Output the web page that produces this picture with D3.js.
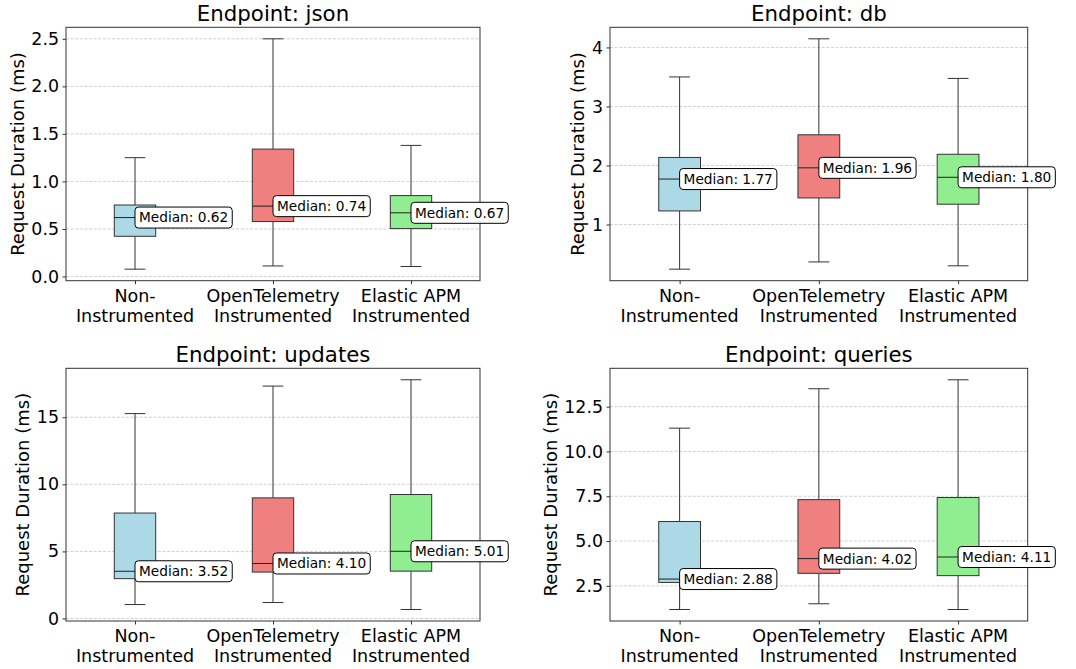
<!DOCTYPE html>
<html>
<head>
<meta charset="utf-8">
<script src="https://cdn.jsdelivr.net/npm/d3@7"></script>
<style>
  body { margin: 0; background: #fff; }
  svg { font-family: "DejaVu Sans", sans-serif; }
</style>
</head>
<body>
<script>
// categories and colours
var groups = ["Non-\nInstrumented", "OpenTelemetry\nInstrumented", "Elastic APM\nInstrumented"];
var colors = ["#add8e6", "#f08080", "#90ee90"];
var endpoints = ["json", "db", "updates", "queries"];

// box stats per endpoint: [whiskerLow, q1, median, q3, whiskerHigh]
var jsonStats = [[0.077, 0.423, 0.62, 0.752, 1.25], [0.111, 0.578, 0.74, 1.34, 2.50], [0.105, 0.504, 0.67, 0.851, 1.379]];
var dbStats = [[0.243, 1.23, 1.77, 2.136, 3.50], [0.366, 1.45, 1.96, 2.52, 4.146], [0.30, 1.344, 1.80, 2.19, 3.475]];
var updatesStats = [[1.04, 2.97, 3.52, 7.86, 15.27], [1.19, 3.46, 4.10, 8.99, 17.32], [0.67, 3.53, 5.01, 9.24, 17.79]];
var queriesStats = [[1.18, 2.69, 2.88, 6.09, 11.30], [1.50, 3.20, 4.02, 7.31, 13.50], [1.18, 3.07, 4.11, 7.43, 14.0]];

// y tick values per endpoint
var jsonTicks = [0, 0.5, 1.0, 1.5, 2.0, 2.5];
var dbTicks = [1, 2, 3, 4];
var updatesTicks = [0, 5, 10, 15];
var queriesTicks = [2.5, 5.0, 7.5, 10.0, 12.5];

var panels = [
  {name: endpoints[0], stats: jsonStats, ticks: jsonTicks, fmt: d3.format(".1f"), x0: 66, x1: 480, y0: 27.3, y1: 280.7},
  {name: endpoints[1], stats: dbStats, ticks: dbTicks, fmt: d3.format("d"), x0: 610, x1: 1027.7, y0: 27.3, y1: 280.7},
  {name: endpoints[2], stats: updatesStats, ticks: updatesTicks, fmt: d3.format("d"), x0: 66, x1: 480, y0: 368.3, y1: 621},
  {name: endpoints[3], stats: queriesStats, ticks: queriesTicks, fmt: d3.format(".1f"), x0: 610, x1: 1027.7, y0: 368.3, y1: 621}
];

var svg = d3.select("body").append("svg")
  .attr("width", 1076)
  .attr("height", 669);

panels.forEach(function(p) {
  var g = svg.append("g");

  var lo = d3.min(p.stats, function(s) { return s[0]; });
  var hi = d3.max(p.stats, function(s) { return s[4]; });
  var m = (hi - lo) * 0.05;

  var y = d3.scaleLinear().domain([lo - m, hi + m]).range([p.y1, p.y0]);
  var x = d3.scaleLinear().domain([0.5, 3.5]).range([p.x0, p.x1]);
  var bw = x(1.15) - x(0.85);

  // grid
  g.selectAll(".grid").data(p.ticks).enter().append("line")
    .attr("x1", p.x0).attr("x2", p.x1)
    .attr("y1", function(d) { return y(d); })
    .attr("y2", function(d) { return y(d); })
    .attr("stroke", "#c4c4c4")
    .attr("stroke-width", 0.8)
    .attr("stroke-dasharray", "3,1.6");

  // y axis
  var yAxis = g.append("g")
    .attr("transform", "translate(" + p.x0 + ",0)")
    .call(d3.axisLeft(y).tickValues(p.ticks).tickFormat(p.fmt).tickSize(3.5).tickPadding(3.5));
  yAxis.select(".domain").remove();
  yAxis.selectAll("line").attr("stroke", "#333");
  yAxis.selectAll("text").attr("font-size", 17.4).attr("fill", "#000")
    .attr("font-family", "DejaVu Sans");

  // x axis
  var xAxis = g.append("g")
    .attr("transform", "translate(0," + p.y1 + ")")
    .call(d3.axisBottom(x).tickValues([1, 2, 3]).tickFormat("").tickSize(3.5));
  xAxis.select(".domain").remove();
  xAxis.selectAll("line").attr("stroke", "#333");

  groups.forEach(function(lbl, i) {
    var t = g.append("text")
      .attr("x", x(i + 1))
      .attr("y", p.y1 + 21)
      .attr("text-anchor", "middle")
      .attr("font-size", 17.5);
    lbl.split("\n").forEach(function(line, k) {
      t.append("tspan").attr("x", x(i + 1)).attr("dy", k === 0 ? 0 : 20).text(line);
    });
  });

  // boxes
  p.stats.forEach(function(s, i) {
    var cx = x(i + 1);
    var bg = g.append("g");
    bg.append("line").attr("x1", cx).attr("x2", cx).attr("y1", y(s[0])).attr("y2", y(s[1]))
      .attr("stroke", "#333").attr("stroke-width", 1);
    bg.append("line").attr("x1", cx).attr("x2", cx).attr("y1", y(s[3])).attr("y2", y(s[4]))
      .attr("stroke", "#333").attr("stroke-width", 1);
    bg.append("line").attr("x1", cx - bw / 4).attr("x2", cx + bw / 4).attr("y1", y(s[0])).attr("y2", y(s[0]))
      .attr("stroke", "#333").attr("stroke-width", 1);
    bg.append("line").attr("x1", cx - bw / 4).attr("x2", cx + bw / 4).attr("y1", y(s[4])).attr("y2", y(s[4]))
      .attr("stroke", "#333").attr("stroke-width", 1);
    bg.append("rect")
      .attr("x", cx - bw / 2).attr("width", bw)
      .attr("y", y(s[3])).attr("height", y(s[1]) - y(s[3]))
      .attr("fill", colors[i]).attr("stroke", "#333").attr("stroke-width", 1);
    bg.append("line").attr("x1", cx - bw / 2).attr("x2", cx + bw / 2).attr("y1", y(s[2])).attr("y2", y(s[2]))
      .attr("stroke", "#222").attr("stroke-width", 1);
  });

  // frame
  g.append("rect")
    .attr("x", p.x0).attr("y", p.y0)
    .attr("width", p.x1 - p.x0).attr("height", p.y1 - p.y0)
    .attr("fill", "none").attr("stroke", "#333").attr("stroke-width", 1);

  // median labels
  p.stats.forEach(function(s, i) {
    var cx = x(i + 1);
    var lg = g.append("g");
    var box = lg.append("rect");
    var t = lg.append("text")
      .attr("x", cx + 4)
      .attr("y", y(s[2]))
      .attr("dy", "0.36em")
      .attr("font-size", 13.7)
      .text("Median: " + s[2].toFixed(2));
    var w = t.node().getComputedTextLength();
    box.attr("x", cx).attr("y", y(s[2]) - 10.5)
      .attr("width", w + 8).attr("height", 21)
      .attr("rx", 3.5)
      .attr("fill", "#fff").attr("stroke", "#000").attr("stroke-width", 1);
  });

  // title
  g.append("text")
    .attr("x", (p.x0 + p.x1) / 2)
    .attr("y", p.y0 - 6.5)
    .attr("text-anchor", "middle")
    .attr("font-size", 21.3)
    .text("Endpoint: " + p.name);

  // y label
  var tickW = d3.max(yAxis.selectAll("text").nodes(), function(n) { return n.getComputedTextLength(); });
  var lx = p.x0 - 7 - tickW - 7.5;
  g.append("text")
    .attr("transform", "translate(" + lx + "," + ((p.y0 + p.y1) / 2) + ") rotate(-90)")
    .attr("text-anchor", "middle")
    .attr("font-size", 18)
    .text("Request Duration (ms)");
});
</script>
</body>
</html>
